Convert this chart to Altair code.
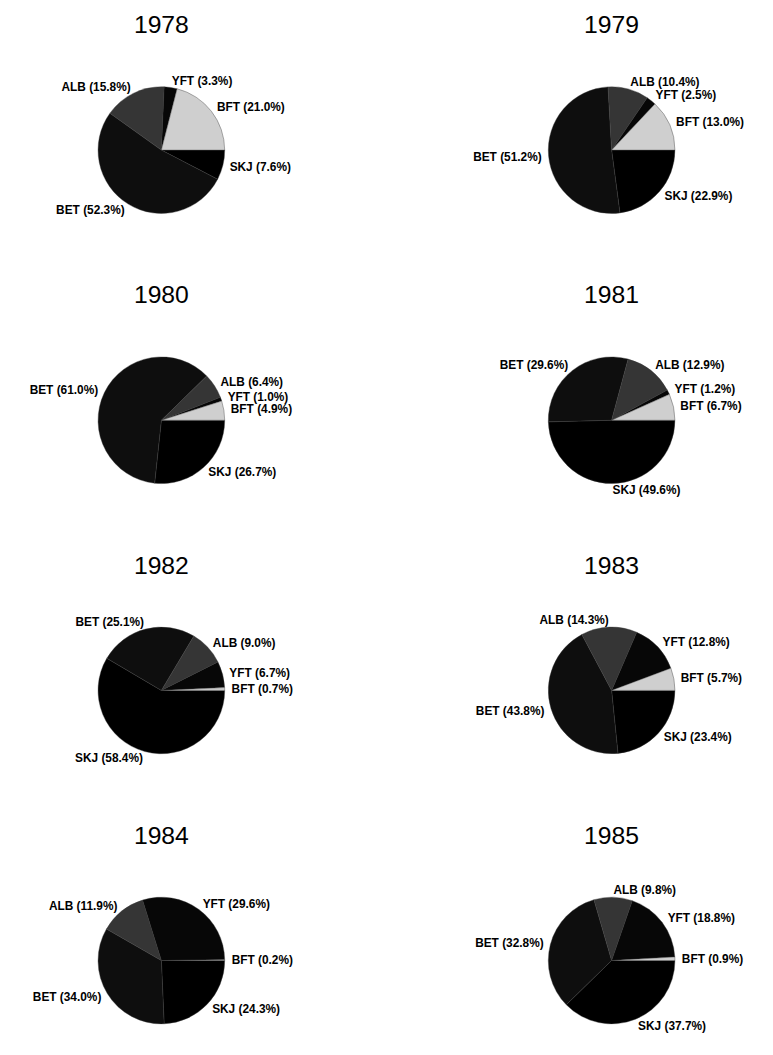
import math
import altair as alt
import pandas as pd

years = [1978, 1979, 1980, 1981, 1982, 1983, 1984, 1985]
species = ["SKJ", "BET", "ALB", "YFT", "BFT"]  # clockwise from 3 o'clock
SKJ = [7.6, 22.9, 26.7, 49.6, 58.4, 23.4, 24.3, 37.7]
BET = [52.3, 51.2, 61.0, 29.6, 25.1, 43.8, 34.0, 32.8]
ALB = [15.8, 10.4, 6.4, 12.9, 9.0, 14.3, 11.9, 9.8]
YFT = [3.3, 2.5, 1.0, 1.2, 6.7, 12.8, 29.6, 18.8]
BFT = [21.0, 13.0, 4.9, 6.7, 0.7, 5.7, 0.2, 0.9]
colors = ["#000000", "#0e0e0e", "#353535", "#070707", "#cfcfcf"]

series = {"SKJ": SKJ, "BET": BET, "ALB": ALB, "YFT": YFT, "BFT": BFT}
rows = []
for i, y in enumerate(years):
    for k, s in enumerate(species):
        rows.append({"year": y, "species": s, "idx": k, "pct": series[s][i]})
df = pd.DataFrame(rows)

FONT = "Liberation Sans"
theta_scale = alt.Scale(range=[math.pi / 2, 5 * math.pi / 2], zero=True, nice=False)

arc = alt.Chart().mark_arc(outerRadius=64, stroke="#3a3a3a", strokeWidth=0.4).encode(
    theta=alt.Theta("pct:Q", stack=True, scale=theta_scale),
    order=alt.Order("idx:Q"),
    color=alt.Color("species:N", scale=alt.Scale(domain=species, range=colors), legend=None),
)

text_base = alt.Chart().encode(
    theta=alt.Theta("mid:Q", stack=False, scale=theta_scale),
    text="label:N",
)
text_left = text_base.mark_text(
    radius=71, align="right", baseline="middle", font=FONT, fontSize=12,
    fontWeight="bold", color="black",
).transform_filter("datum.mid > 25 && datum.mid < 75")
text_right = text_base.mark_text(
    radius=71, align="left", baseline="middle", font=FONT, fontSize=12,
    fontWeight="bold", color="black",
).transform_filter("datum.mid <= 25 || datum.mid >= 75")

chart = (
    alt.layer(arc, text_left, text_right)
    .properties(width=310, height=210)
    .facet(
        facet=alt.Facet(
            "year:N",
            title=None,
            header=alt.Header(labelFontSize=25, labelFont=FONT, labelPadding=8,
                              labelColor="black"),
        ),
        columns=2,
        spacing={"row": 30, "column": 145},
        data=df,
    )
    .transform_window(cum="sum(pct)", groupby=["year"], sort=[alt.SortField("idx")],
                      frame=[None, 0])
    .transform_calculate(
        mid="datum.cum - datum.pct / 2",
        label="datum.species + ' (' + format(datum.pct, '.1f') + '%)'",
    )
    .resolve_scale(theta="independent")
    .properties(padding=0, background="white")
    .configure_view(stroke=None)
)

chart.save("out.html", embed_options={"renderer": "svg", "actions": False})
